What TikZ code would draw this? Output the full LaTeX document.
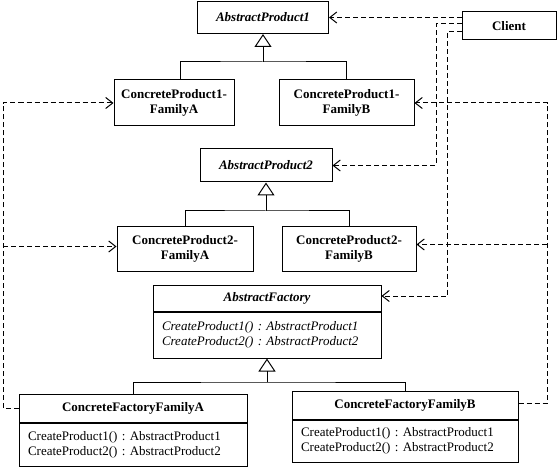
\documentclass[tikz,border=0pt]{standalone}
\usepackage{fontspec}
\setmainfont{Liberation Serif}
\usetikzlibrary{arrows.meta}
\frenchspacing
\begin{document}
\begin{tikzpicture}[x=1pt,y=-1pt,line width=1pt,
  every node/.style={inner sep=0pt,font=\fontsize{13}{15}\selectfont},
  cls/.style={draw,fill=white,align=center,font=\fontsize{13}{15}\selectfont\bfseries},
  acls/.style={cls,font=\fontsize{13}{15}\selectfont\bfseries\itshape},
  body/.style={draw,fill=white,align=left,anchor=north,font=\fontsize{13}{15}\selectfont},
  abody/.style={body,font=\fontsize{13}{15}\selectfont\itshape},
  dep/.style={dash pattern=on 5pt off 3pt,-{Straight Barb[length=7pt,width=11pt]}},
  inh/.style={-{Triangle[open,length=13pt,width=17pt]}}]
\fill[white] (0,0) rectangle (560,468);
\useasboundingbox (0,0) rectangle (560,468);
% classes
\node[acls,minimum width=131pt,minimum height=32pt] (ap1) at (263,17.5) {AbstractProduct1};
\node[cls,minimum width=94pt,minimum height=28pt] (client) at (509,26) {Client};
\node[cls,minimum width=120pt,minimum height=46pt] (cp1a) at (174,103) {ConcreteProduct1-\\FamilyA};
\node[cls,minimum width=135pt,minimum height=46pt] (cp1b) at (346.5,103) {ConcreteProduct1-\\FamilyB};
\node[acls,minimum width=132pt,minimum height=33pt] (ap2) at (266,165.5) {AbstractProduct2};
\node[cls,minimum width=136pt,minimum height=45pt] (cp2a) at (185,248.5) {ConcreteProduct2-\\FamilyA};
\node[cls,minimum width=134pt,minimum height=45pt] (cp2b) at (349,248.5) {ConcreteProduct2-\\FamilyB};
\node[acls,minimum width=228pt,minimum height=26pt] (afh) at (267,298) {AbstractFactory};
\node[abody,minimum width=228pt,minimum height=46pt,text width=210pt] (afb) at (afh.south)
  {CreateProduct1() : AbstractProduct1\\CreateProduct2() : AbstractProduct2};
\node[cls,minimum width=228pt,minimum height=28pt] (cfah) at (133,408) {ConcreteFactoryFamilyA};
\node[body,minimum width=228pt,minimum height=43pt,text width=210pt] (cfab) at (cfah.south)
  {CreateProduct1() : AbstractProduct1\\CreateProduct2() : AbstractProduct2};
\node[cls,minimum width=226pt,minimum height=28pt] (cfbh) at (405,405) {ConcreteFactoryFamilyB};
\node[body,minimum width=226pt,minimum height=42pt,text width=208pt] (cfbb) at (cfbh.south)
  {CreateProduct1() : AbstractProduct1\\CreateProduct2() : AbstractProduct2};
% junctions
\coordinate (j1) at (263,62);
\coordinate (j2) at (266,211);
\coordinate (j3) at (267,382);
\coordinate (v1) at (436,0);
\coordinate (v2) at (447,0);
\coordinate (l1) at (3,0);
\coordinate (r1) at (547,0);
% inheritance
\draw ([xshift=6pt]cp1a.north) |- (j1) -| (cp1b.north);
\draw[inh] (j1) -- (ap1.south);
\draw (cp2a.north) |- (j2) -| (cp2b.north);
\draw[inh] (j2) -- (ap2.south);
\draw (cfah.north) |- (j3) -| (cfbh.north);
\draw[inh] (j3) -- (afb.south);
% dependencies
\draw[dep] (client.west |- ap1.east) -- (ap1.east);
\draw[dep] ([yshift=2pt]client.west) -| (v1 |- ap2.east) -- (ap2.east);
\draw[dep] ([yshift=-6pt]client.west) -| ([yshift=2pt]v2 |- afh.east) -- ([yshift=2pt]afh.east);
\draw[dep] (cfah.west) -| (l1 |- cp1a.west) -- (cp1a.west);
\draw[dep] ([yshift=2pt]l1 |- cp2a.west) -- ([yshift=2pt]cp2a.west);
\draw[dep] ([yshift=2pt]cfbh.east) -| (r1 |- cp1b.east) -- (cp1b.east);
\draw[dep] ([yshift=4pt]r1 |- cp2b.east) -- ([yshift=4pt]cp2b.east);
\end{tikzpicture}
\end{document}
